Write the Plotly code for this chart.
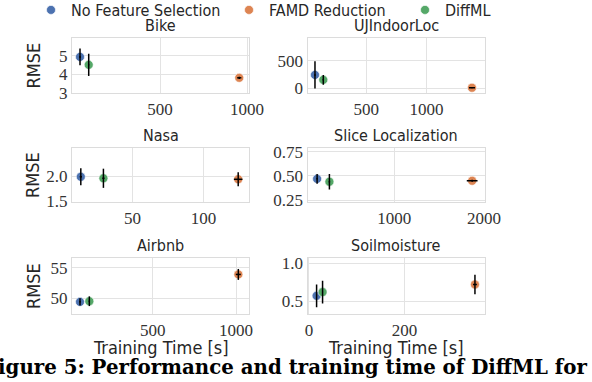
import plotly.graph_objects as go
from plotly.subplots import make_subplots

# Datasets and methods
datasets = ["Bike", "UJIndoorLoc", "Nasa", "Slice Localization", "Airbnb", "Soilmoisture"]
methods = ["No Feature Selection", "FAMD Reduction", "DiffML"]
colors = ["#4C72B0", "#DD8452", "#55A868"]

# Training time [s] per dataset
time_nofs = [40, 75, 13.7, 140, 64, 16]
time_famd = [955, 1377, 124.4, 1867, 1014, 347]
time_diffml = [90, 144, 29.6, 277, 120, 28.5]
time_err_nofs = [5, 6, 0.8, 8, 4, 1]
time_err_famd = [12, 25, 3, 60, 15, 4]
time_err_diffml = [3, 6, 0.8, 8, 4, 1]

# RMSE per dataset
rmse_nofs = [4.93, 245, 1.99, 0.47, 49.4, 0.57]
rmse_famd = [3.8, 10, 1.94, 0.45, 53.9, 0.72]
rmse_diffml = [4.5, 155, 1.96, 0.44, 49.5, 0.62]
rmse_err_nofs = [0.45, 250, 0.17, 0.05, 0.6, 0.15]
rmse_err_famd = [0.06, 10, 0.14, 0.01, 0.9, 0.13]
rmse_err_diffml = [0.6, 90, 0.19, 0.08, 0.8, 0.15]

# Axis ticks and ranges
x_ticks = [[500, 1000], [500, 1000], [50, 100], [1000, 2000], [500, 1000], [0, 200]]
y_ticks = [[3, 4, 5], [0, 500], [1.5, 2.0], [0.25, 0.5, 0.75], [50, 55], [0.5, 1.0]]
y_ticktext = [["3", "4", "5"], ["0", "500"], ["1.5", "2.0"], ["0.25", "0.50", "0.75"],
              ["50", "55"], ["0.5", "1.0"]]
x_ranges = [[-6, 1011], [13, 1485], [7.5, 132], [33, 2010], [16, 1078], [-3, 368]]
y_ranges = [[2.98, 5.95], [-86, 920], [1.49, 2.56], [0.23, 0.79], [47.4, 56.6], [0.33, 1.07]]

W, H = 592, 382
col_dom = [[72 / W, 249 / W], [307.5 / W, 485 / W]]
row_dom = [[1 - 93 / H, 1 - 38 / H], [1 - 202 / H, 1 - 148 / H], [1 - 314 / H, 1 - 258 / H]]

fig = make_subplots(rows=3, cols=2)

series = [
    (time_nofs, time_err_nofs, rmse_nofs, rmse_err_nofs),
    (time_famd, time_err_famd, rmse_famd, rmse_err_famd),
    (time_diffml, time_err_diffml, rmse_diffml, rmse_err_diffml),
]

tick_font = dict(family="Liberation Serif", size=17, color="#333333")
sans = "DejaVu Sans Condensed"

for i, name in enumerate(datasets):
    r, c = i // 2 + 1, i % 2 + 1
    for m, (t, te, y, ye) in enumerate(series):
        fig.add_trace(go.Scatter(
            x=[t[i]], y=[y[i]], mode="markers",
            marker=dict(color=colors[m], size=9, line=dict(color="rgba(255,255,255,0.6)", width=1)),
            name=methods[m], showlegend=(i == 0),
            legend=["legend", "legend2", "legend3"][m],
        ), row=r, col=c)
        # error bars drawn over the markers
        fig.add_trace(go.Scatter(
            x=[t[i]], y=[y[i]], mode="markers",
            marker=dict(size=1, opacity=0),
            error_x=dict(type="data", array=[te[i]], color="black", thickness=1.5, width=0),
            error_y=dict(type="data", array=[ye[i]], color="black", thickness=1.5, width=0),
            showlegend=False, hoverinfo="skip",
        ), row=r, col=c)

    axis_style = dict(showgrid=True, gridcolor="#e3e3e3", gridwidth=1, zeroline=False,
                      showline=True, linecolor="#dcdcdc", linewidth=1.2, mirror=True,
                      ticks="", tickfont=tick_font, automargin=False)
    fig.update_xaxes(domain=col_dom[c - 1], range=x_ranges[i], tickvals=x_ticks[i],
                     ticktext=[str(v) for v in x_ticks[i]], row=r, col=c, **axis_style)
    fig.update_yaxes(domain=row_dom[r - 1], range=y_ranges[i], tickvals=y_ticks[i],
                     ticktext=y_ticktext[i], row=r, col=c, **axis_style)

    # subplot title
    cx = (col_dom[c - 1][0] + col_dom[c - 1][1]) / 2
    fig.add_annotation(x=cx, y=row_dom[r - 1][1] + 1 / H, xref="paper", yref="paper",
                       text=name, showarrow=False, xanchor="center", yanchor="bottom",
                       font=dict(family=sans, size=16, color="#262626"))

# y axis titles (left column)
for r in range(3):
    cy = (row_dom[r][0] + row_dom[r][1]) / 2
    fig.add_annotation(x=33 / W, y=cy, xref="paper", yref="paper", text="RMSE",
                       textangle=-90, showarrow=False, xanchor="center", yanchor="middle",
                       font=dict(family=sans, size=18, color="#262626"))

# x axis titles (bottom row)
for c in range(2):
    cx = (col_dom[c][0] + col_dom[c][1]) / 2
    fig.add_annotation(x=cx, y=1 - 347 / H, xref="paper", yref="paper",
                       text="Training Time [s]", showarrow=False,
                       xanchor="center", yanchor="middle",
                       font=dict(family=sans, size=18, color="#262626"))

# cropped caption
fig.add_annotation(x=589 / W, y=1 - 367 / H, xref="paper", yref="paper",
                   text="<b>Figure 5: Performance and training time of DiffML for</b>",
                   showarrow=False, xanchor="right", yanchor="middle",
                   font=dict(family="DejaVu Serif", size=19.8, color="black"))

legend_style = dict(orientation="h", yanchor="top", y=1 + 7 / H, xanchor="left",
                    bgcolor="rgba(0,0,0,0)", font=dict(family=sans, size=16, color="#262626"))
fig.update_layout(
    width=W, height=H,
    margin=dict(l=0, r=0, t=0, b=0, autoexpand=False),
    plot_bgcolor="white", paper_bgcolor="white",
    legend=dict(x=31 / W, **legend_style),
    legend2=dict(x=229 / W, **legend_style),
    legend3=dict(x=405 / W, **legend_style),
)

# drop the default page margin so the figure sits at the window corner
fig.write_html("out.html", config={"displayModeBar": False},
               post_script="document.body.style.margin='0';")
